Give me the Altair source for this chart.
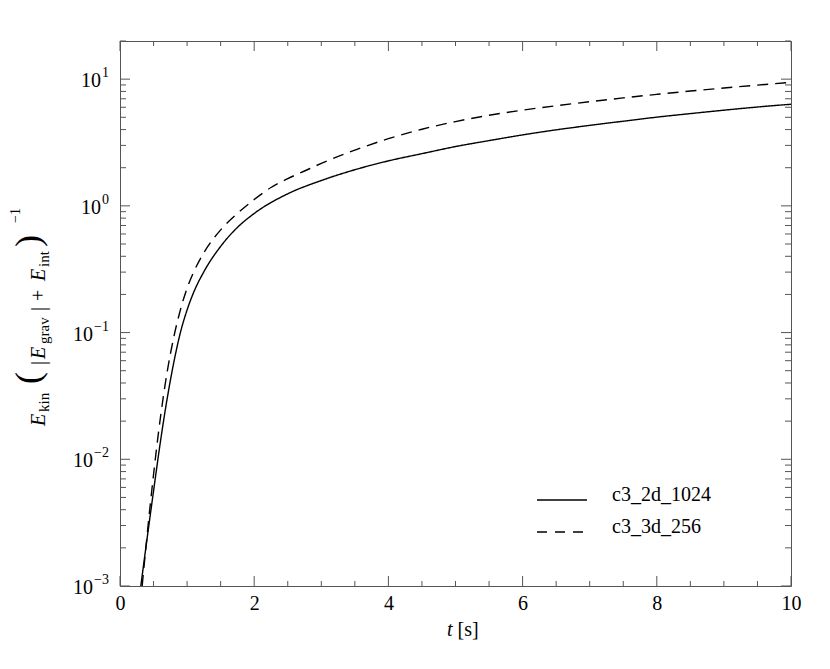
import altair as alt
import pandas as pd

# ---------------- data ----------------
series_names = ["c3_2d_1024", "c3_3d_256"]

t_2d = [0.31, 0.40, 0.50, 0.60, 0.70, 0.80, 0.90, 1.00, 1.10, 1.25, 1.50, 1.75, 2.00,
        2.50, 3.00, 3.50, 4.00, 4.50, 5.00, 5.50, 6.00, 6.50, 7.00, 7.50, 8.00, 8.50,
        9.00, 9.50, 10.0]
e_2d = [0.001, 0.00229, 0.00562, 0.0135, 0.0295, 0.0575, 0.100, 0.151, 0.209, 0.302,
        0.479, 0.676, 0.871, 1.245, 1.585, 1.928, 2.265, 2.582, 2.938, 3.273, 3.631,
        3.981, 4.315, 4.656, 5.012, 5.346, 5.689, 6.026, 6.339]

t_3d = [0.33, 0.40, 0.50, 0.60, 0.70, 0.80, 0.90, 1.00, 1.10, 1.25, 1.50, 1.75, 2.00,
        2.25, 2.50, 2.75, 3.00, 3.50, 4.00, 4.50, 5.00, 5.50, 6.00, 6.50, 7.00, 7.50,
        8.00, 8.50, 9.00, 9.50, 10.0]
e_3d = [0.001, 0.0024, 0.00759, 0.0209, 0.0479, 0.0912, 0.151, 0.224, 0.302, 0.427,
        0.646, 0.871, 1.122, 1.396, 1.641, 1.884, 2.163, 2.754, 3.388, 4.027, 4.624,
        5.188, 5.689, 6.166, 6.637, 7.112, 7.586, 8.054, 8.511, 8.974, 9.441]

x_major = [0, 2, 4, 6, 8, 10]
x_minor = [0.5, 1, 1.5, 2.5, 3, 3.5, 4.5, 5, 5.5, 6.5, 7, 7.5, 8.5, 9, 9.5]
y_decades = [0.001, 0.01, 0.1, 1, 10]
y_exponents = ["\u22123", "\u22122", "\u22121", "0", "1"]
y_minor = [0.002, 0.003, 0.004, 0.005, 0.006, 0.007, 0.008, 0.009,
           0.02, 0.03, 0.04, 0.05, 0.06, 0.07, 0.08, 0.09,
           0.2, 0.3, 0.4, 0.5, 0.6, 0.7, 0.8, 0.9,
           2, 3, 4, 5, 6, 7, 8, 9, 20]

# ---------------- setup ----------------
W, H = 671, 545
F = "Liberation Serif"
FRAME = "#555555"

curves = pd.concat([
    pd.DataFrame({"t": t_2d, "e": e_2d, "series": series_names[0]}),
    pd.DataFrame({"t": t_3d, "e": e_3d, "series": series_names[1]}),
])

xs = alt.Scale(domain=[0, 10], nice=False, zero=False)
ys = alt.Scale(type="log", domain=[0.001, 20], nice=False)

x_axis = alt.Axis(values=x_major, format="d", labelFont=F, labelFontSize=20,
                  labelColor="black", ticks=False, domain=False, grid=False,
                  title=None, labelPadding=7, labelFlush=False)

lines = alt.Chart(curves).mark_line(color="black", strokeWidth=1.4,
                                    interpolate="monotone", clip=True).encode(
    x=alt.X("t:Q", scale=xs, axis=x_axis),
    y=alt.Y("e:Q", scale=ys, axis=None),
    strokeDash=alt.StrokeDash("series:N",
                              scale=alt.Scale(domain=series_names, range=[[1, 0], [11, 7]]),
                              legend=None),
    detail="series:N",
)

# ticks on all four sides (inward)
def xticks(vals, length):
    df = pd.DataFrame({"t": vals})
    base = alt.Chart(df).mark_rule(color=FRAME, strokeWidth=1)
    bottom = base.encode(x=alt.X("t:Q", scale=xs, axis=x_axis), y=alt.value(H), y2=alt.value(H - length))
    top = base.encode(x=alt.X("t:Q", scale=xs, axis=x_axis), y=alt.value(0), y2=alt.value(length))
    return [bottom, top]

def yticks(vals, length):
    df = pd.DataFrame({"e": vals})
    base = alt.Chart(df).mark_rule(color=FRAME, strokeWidth=1)
    left = base.encode(y=alt.Y("e:Q", scale=ys, axis=None), x=alt.value(0), x2=alt.value(length))
    right = base.encode(y=alt.Y("e:Q", scale=ys, axis=None), x=alt.value(W), x2=alt.value(W - length))
    return [left, right]

tick_layers = xticks(x_major, 10) + xticks(x_minor, 5) + yticks(y_decades, 10) + yticks(y_minor, 6)

# y tick labels 10^k
lab_df = pd.DataFrame({"v": y_decades, "exp": y_exponents})
ten_pos = alt.Chart(lab_df).transform_filter("datum.v >= 1").mark_text(
    text="10", align="right", baseline="middle", font=F, fontSize=20, dy=2, color="black"
).encode(y=alt.Y("v:Q", scale=ys, axis=None), x=alt.value(-19))
ten_neg = alt.Chart(lab_df).transform_filter("datum.v < 1").mark_text(
    text="10", align="right", baseline="middle", font=F, fontSize=20, dy=2, color="black"
).encode(y=alt.Y("v:Q", scale=ys, axis=None), x=alt.value(-27))
exps = alt.Chart(lab_df).mark_text(
    align="right", baseline="middle", font=F, fontSize=14, dy=-6, color="black"
).encode(y=alt.Y("v:Q", scale=ys, axis=None), x=alt.value(-11), text="exp:N")

# y axis title pieces (rotated)
one = alt.Data(values=[{"k": 0}])
def piece(txt, x, y, size, italic=False):
    kw = dict(text=txt, angle=270, align="left", baseline="alphabetic",
              font=F, fontSize=size, color="black")
    if italic:
        kw["fontStyle"] = "italic"
    return alt.Chart(one).mark_text(**kw).encode(x=alt.value(x), y=alt.value(y))

title_layers = [
    piece("E", -75, 385, 20, True),
    piece("kin", -71, 371, 15),
    piece("(", -80, 343, 36),
    piece("|", -75, 324, 20),
    piece("E", -75, 318, 20, True),
    piece("grav", -71, 303, 15),
    piece("|", -75, 270, 20),
    piece("+", -75, 260, 20),
    piece("E", -75, 240, 20, True),
    piece("int", -71, 226, 15),
    piece(")", -80, 206, 36),
    piece("\u22121", -100, 182, 14),
]

# x axis title
xt1 = alt.Chart(one).mark_text(text="t", align="right", baseline="middle", font=F,
                               fontSize=20, fontStyle="italic", color="black").encode(
    x=alt.value(W / 2 - 3), y=alt.value(H + 44))
xt2 = alt.Chart(one).mark_text(text="[s]", align="left", baseline="middle", font=F,
                               fontSize=20, color="black").encode(
    x=alt.value(W / 2 + 2), y=alt.value(H + 44))

# legend
leg_df = pd.DataFrame({"name": series_names})
leg_solid = alt.Chart(one).mark_rule(color="black", strokeWidth=1.4).encode(
    x=alt.value(417), x2=alt.value(467), y=alt.value(459))
leg_dash = alt.Chart(one).mark_rule(color="black", strokeWidth=1.4, strokeDash=[10, 8]).encode(
    x=alt.value(417), x2=alt.value(467), y=alt.value(491))
leg_t1 = alt.Chart(leg_df).transform_filter(alt.datum.name == series_names[0]).mark_text(
    align="left", baseline="alphabetic", font=F, fontSize=20, color="black").encode(
    x=alt.value(492), y=alt.value(460), text="name:N")
leg_t2 = alt.Chart(leg_df).transform_filter(alt.datum.name == series_names[1]).mark_text(
    align="left", baseline="alphabetic", font=F, fontSize=20, color="black").encode(
    x=alt.value(492), y=alt.value(492), text="name:N")

chart = alt.layer(
    lines, *tick_layers, ten_pos, ten_neg, exps, *title_layers, xt1, xt2,
    leg_solid, leg_dash, leg_t1, leg_t2
).properties(
    width=W, height=H,
    autosize=alt.AutoSizeParams(type="none"),
    padding={"left": 112, "top": 33, "right": 25, "bottom": 70},
).configure_view(stroke=FRAME, strokeWidth=1)

chart.save("out.html", embed_options={"renderer": "svg", "actions": False})
